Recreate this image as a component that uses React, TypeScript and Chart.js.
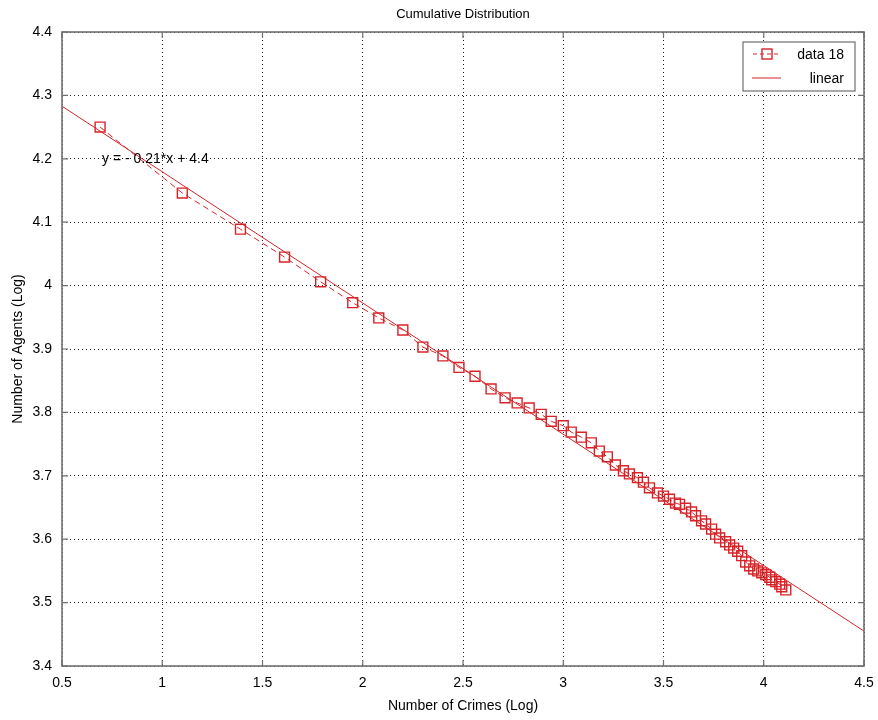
import React, { useEffect, useRef } from "react";
import { Chart, registerables } from "chart.js";

Chart.register(...registerables);

const crimesLog: number[] = [
  0.69, 1.10, 1.39, 1.61, 1.79, 1.95, 2.08, 2.20, 2.30, 2.40,
  2.48, 2.56, 2.64, 2.71, 2.77, 2.83, 2.89, 2.94, 3.00, 3.04,
  3.09, 3.14, 3.18, 3.22, 3.26, 3.30, 3.33, 3.37, 3.40, 3.43,
  3.47, 3.50, 3.53, 3.56, 3.58, 3.61, 3.64, 3.66, 3.69, 3.71,
  3.74, 3.76, 3.78, 3.81, 3.83, 3.85, 3.87, 3.89, 3.91, 3.93,
  3.95, 3.97, 3.99, 4.01, 4.03, 4.04, 4.06, 4.08, 4.09, 4.11,
];
const agentsLog: number[] = [
  4.250, 4.146, 4.089, 4.045, 4.006, 3.973, 3.949, 3.930, 3.903, 3.889,
  3.871, 3.857, 3.837, 3.823, 3.815, 3.807, 3.797, 3.786, 3.779, 3.769,
  3.761, 3.752, 3.739, 3.730, 3.717, 3.708, 3.703, 3.697, 3.690, 3.681,
  3.673, 3.668, 3.663, 3.657, 3.655, 3.649, 3.643, 3.637, 3.629, 3.624,
  3.616, 3.608, 3.602, 3.596, 3.591, 3.586, 3.581, 3.574, 3.564, 3.558,
  3.553, 3.550, 3.547, 3.544, 3.540, 3.536, 3.533, 3.529, 3.525, 3.520,
];
const fitX: number[] = [0.5, 4.5];
const fitY: number[] = [4.283, 3.455];

const xTicks: number[] = [0.5, 1, 1.5, 2, 2.5, 3, 3.5, 4, 4.5];
const yTicks: number[] = [3.4, 3.5, 3.6, 3.7, 3.8, 3.9, 4, 4.1, 4.2, 4.3, 4.4];

const seriesName = "data 18";
const fitName = "linear";
const equationText = "y = - 0.21*x + 4.4";
const equationAt = { x: 0.7, y: 4.2 };
const titleText = "Cumulative Distribution";
const xLabel = "Number of Crimes (Log)";
const yLabel = "Number of Agents (Log)";

const RED = "rgb(215,35,40)";
const FONT = "'Liberation Sans', Arial, Helvetica, sans-serif";

const fmt = (v: number) => String(Number(v.toFixed(2)));

export default function App() {
  const ref = useRef<HTMLCanvasElement | null>(null);

  useEffect(() => {
    document.body.style.margin = "0";
    const canvas = ref.current;
    if (!canvas) return;

    const overlay = {
      id: "overlay",
      afterDraw(chart: any) {
        const ctx = chart.ctx as CanvasRenderingContext2D;
        const a = chart.chartArea;
        const xs = chart.scales.x;
        const ys = chart.scales.y;
        ctx.save();
        // box
        ctx.strokeStyle = "#707070";
        ctx.lineWidth = 1.6;
        ctx.setLineDash([]);
        ctx.strokeRect(a.left, a.top, a.right - a.left, a.bottom - a.top);
        // inner ticks
        ctx.lineWidth = 1.2;
        const tl = 6;
        ctx.beginPath();
        xTicks.forEach((t) => {
          const px = xs.getPixelForValue(t);
          ctx.moveTo(px, a.bottom);
          ctx.lineTo(px, a.bottom - tl);
          ctx.moveTo(px, a.top);
          ctx.lineTo(px, a.top + tl);
        });
        yTicks.forEach((t) => {
          const py = ys.getPixelForValue(t);
          ctx.moveTo(a.left, py);
          ctx.lineTo(a.left + tl, py);
          ctx.moveTo(a.right, py);
          ctx.lineTo(a.right - tl, py);
        });
        ctx.stroke();

        // equation
        ctx.fillStyle = "#000";
        ctx.font = `14px ${FONT}`;
        ctx.textAlign = "left";
        ctx.textBaseline = "middle";
        ctx.fillText(
          equationText,
          xs.getPixelForValue(equationAt.x),
          ys.getPixelForValue(equationAt.y)
        );

        // title & labels
        const cx = (a.left + a.right) / 2;
        const cy = (a.top + a.bottom) / 2;
        ctx.textAlign = "center";
        ctx.font = `13px ${FONT}`;
        ctx.fillText(titleText, cx, 14);
        ctx.font = `14px ${FONT}`;
        ctx.fillText(xLabel, cx, 706);
        ctx.save();
        ctx.translate(18, cy);
        ctx.rotate(-Math.PI / 2);
        ctx.fillText(yLabel, 0, 0);
        ctx.restore();

        // legend
        const lx = 743, ly = 42, lw = 112, lh = 49;
        ctx.fillStyle = "#fff";
        ctx.fillRect(lx, ly, lw, lh);
        ctx.strokeStyle = "#6e6e6e";
        ctx.lineWidth = 1.2;
        ctx.strokeRect(lx, ly, lw, lh);
        ctx.strokeStyle = RED;
        ctx.lineWidth = 1;
        ctx.setLineDash([4, 3]);
        ctx.beginPath();
        ctx.moveTo(753, 54);
        ctx.lineTo(781, 54);
        ctx.stroke();
        ctx.setLineDash([]);
        ctx.lineWidth = 1.4;
        ctx.strokeRect(762, 49, 10, 10);
        ctx.lineWidth = 1;
        ctx.beginPath();
        ctx.moveTo(752, 78);
        ctx.lineTo(781, 78);
        ctx.stroke();
        ctx.fillStyle = "#000";
        ctx.font = `14px ${FONT}`;
        ctx.textAlign = "right";
        ctx.fillText(seriesName, 844, 55);
        ctx.fillText(fitName, 844, 79);
        ctx.restore();
      },
    };

    const chart = new Chart(canvas, {
      type: "scatter",
      data: {
        datasets: [
          {
            label: fitName,
            data: fitX.map((x, i) => ({ x, y: fitY[i] })),
            showLine: true,
            borderColor: RED,
            borderWidth: 1,
            pointRadius: 0,
            fill: false,
          },
          {
            label: seriesName,
            data: crimesLog.map((x, i) => ({ x, y: agentsLog[i] })),
            showLine: true,
            borderColor: RED,
            borderWidth: 1,
            borderDash: [6, 4],
            pointStyle: "rect",
            pointRadius: 7,
            pointBorderWidth: 1.4,
            pointBackgroundColor: "rgba(0,0,0,0)",
            pointBorderColor: RED,
            fill: false,
          },
        ],
      },
      options: {
        animation: false,
        responsive: false,
        maintainAspectRatio: false,
        layout: { padding: { left: 0, right: 14, top: 32, bottom: 0 } },
        plugins: {
          legend: { display: false },
          title: { display: false },
          tooltip: { enabled: false },
        },
        scales: {
          x: {
            type: "linear",
            min: 0.5,
            max: 4.5,
            afterFit(scale: any) {
              scale.height = 54;
              scale.paddingLeft = 0;
              scale.paddingRight = 0;
            },
            afterBuildTicks(scale: any) {
              scale.ticks = xTicks.map((v) => ({ value: v }));
            },
            ticks: {
              padding: 9,
              color: "#000",
              font: { family: FONT, size: 14 },
              callback: (v: any) => fmt(Number(v)),
              maxRotation: 0,
              autoSkip: false,
            },
            grid: {
              drawTicks: false,
              color: "#222",
              lineWidth: 1,
            },
            border: { display: false, dash: [1, 3] },
          },
          y: {
            type: "linear",
            min: 3.4,
            max: 4.4,
            afterFit(scale: any) {
              scale.width = 62;
              scale.paddingTop = 0;
              scale.paddingBottom = 0;
            },
            afterBuildTicks(scale: any) {
              scale.ticks = yTicks.map((v) => ({ value: v }));
            },
            ticks: {
              padding: 10,
              color: "#000",
              font: { family: FONT, size: 14 },
              callback: (v: any) => fmt(Number(v)),
              autoSkip: false,
            },
            grid: {
              drawTicks: false,
              color: "#222",
              lineWidth: 1,
            },
            border: { display: false, dash: [1, 3] },
          },
        },
      },
      plugins: [overlay],
    } as any);

    return () => chart.destroy();
  }, []);

  return (
    <div style={{ width: 878, height: 720, background: "#fff" }}>
      <canvas ref={ref} width={878} height={720} style={{ display: "block" }} />
    </div>
  );
}
